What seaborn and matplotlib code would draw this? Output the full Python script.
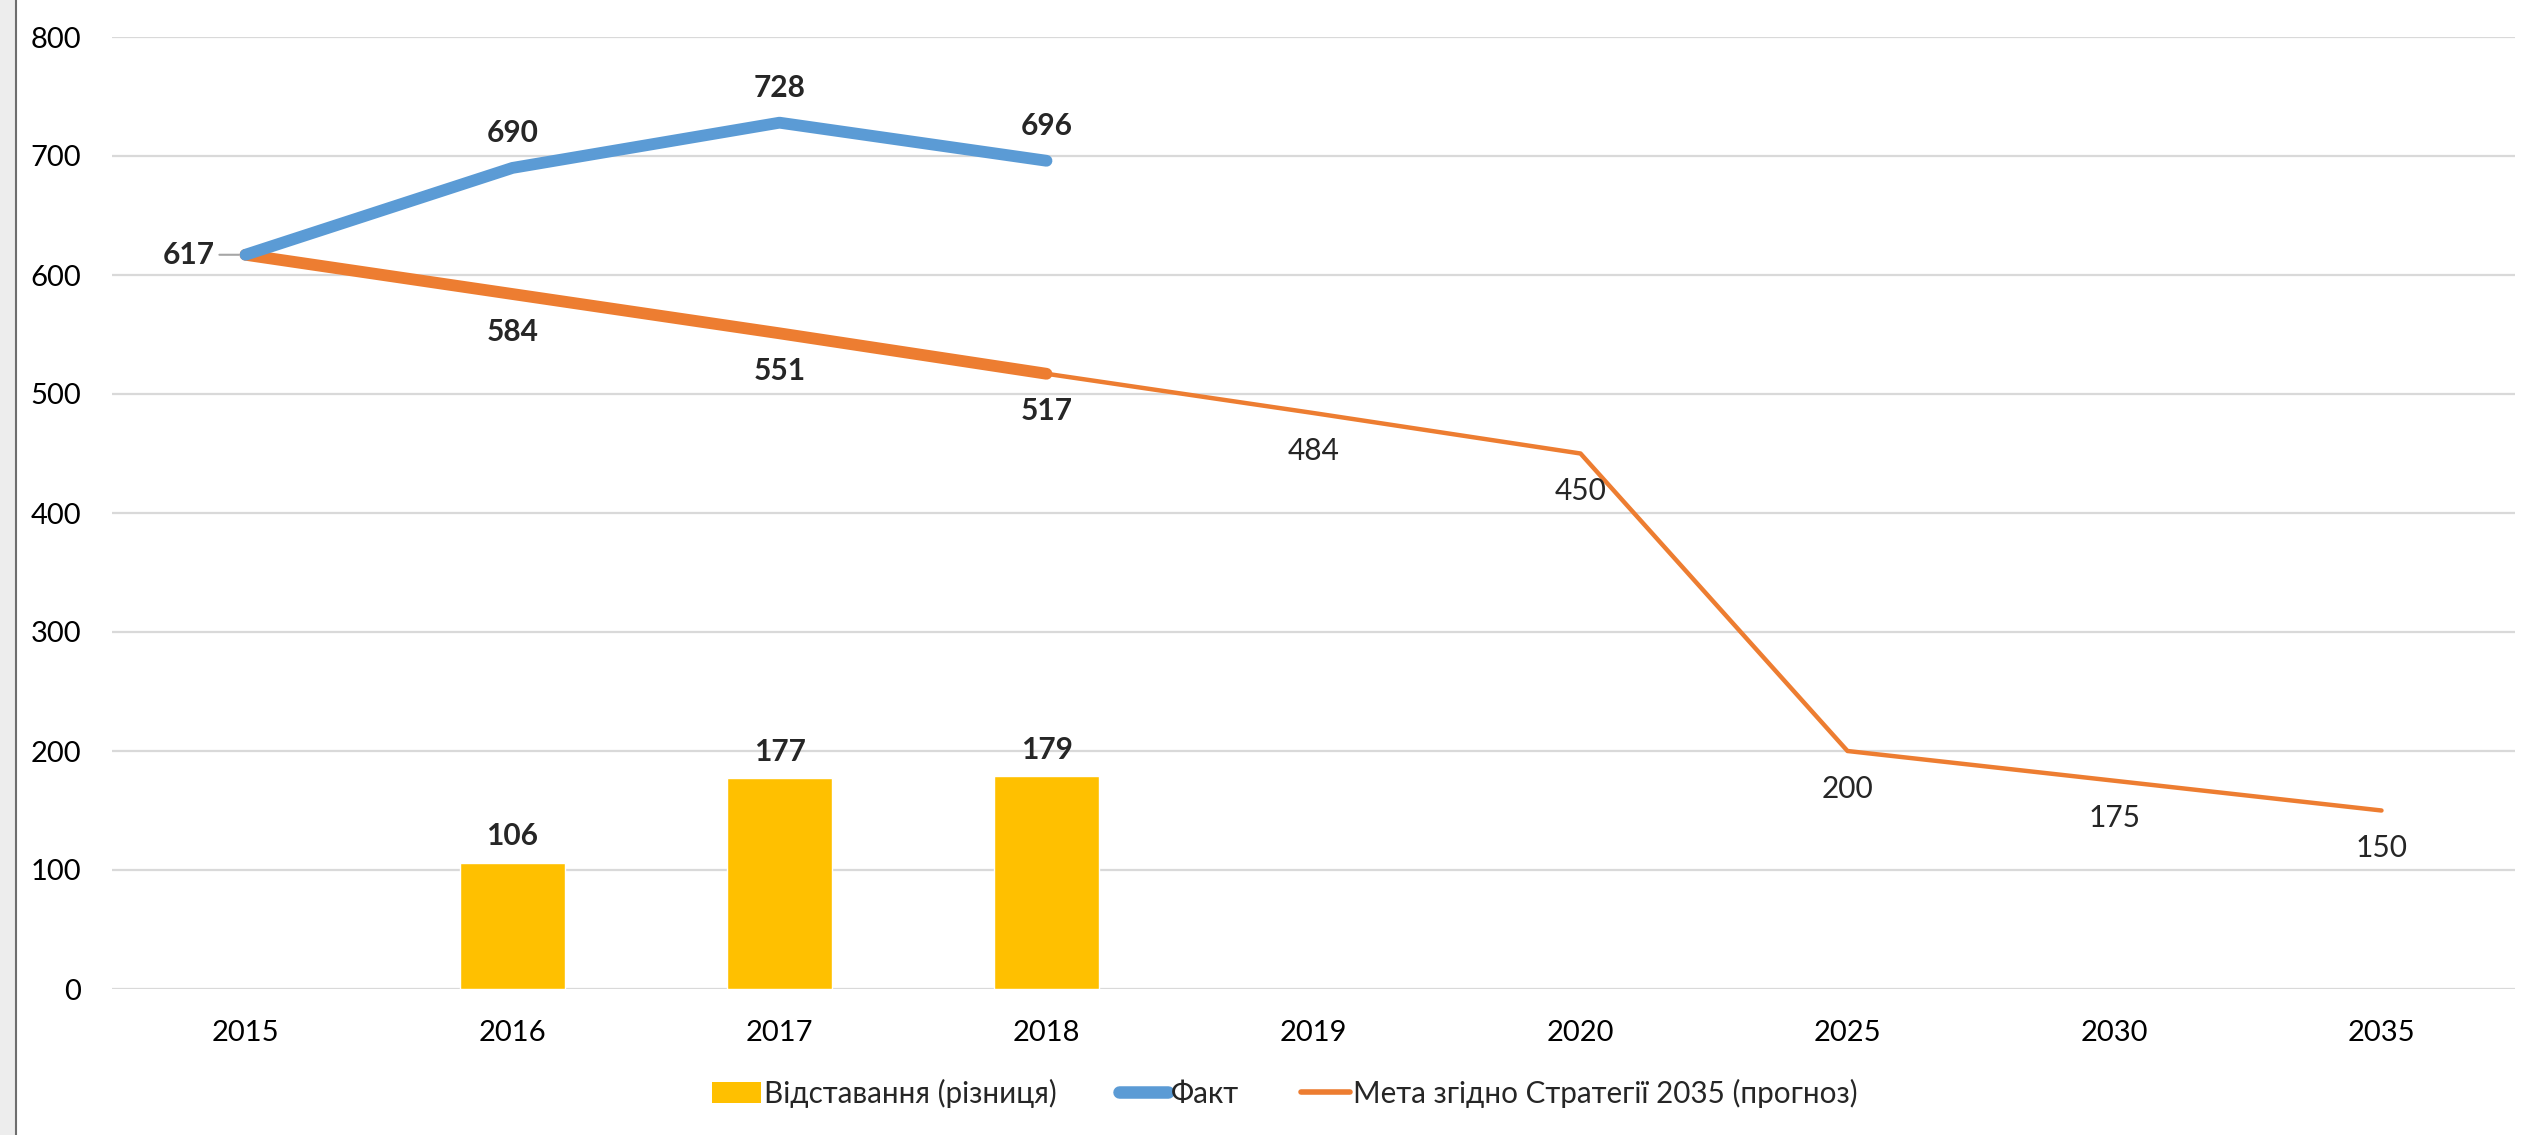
import matplotlib
matplotlib.use("Agg")
import matplotlib.pyplot as plt
import seaborn as sns
import pandas as pd
import numpy as np
from matplotlib.lines import Line2D
from matplotlib.patches import Patch, Rectangle

years = ["2015", "2016", "2017", "2018", "2019", "2020", "2025", "2030", "2035"]
fact = [617, 690, 728, 696]
target = [617, 584, 551, 517, 484, 450, 200, 175, 150]
gap_years = ["2016", "2017", "2018"]
gap = [106, 177, 179]

lbl_gap = "Відставання (різниця)"
lbl_fact = "Факт"
lbl_target = "Мета згідно Стратегії 2035 (прогноз)"

BLUE = "#5B9BD5"
ORANGE = "#ED7D31"
YELLOW = "#FFC000"

sns.set_theme(style="white")
plt.rcParams["font.family"] = ["Lato", "DejaVu Sans"]

fig = plt.figure(figsize=(25.39, 11.35), dpi=100)
ax = fig.add_axes([112 / 2539, 1 - 989 / 1135, (2515 - 112) / 2539, (989 - 37) / 1135])

# left gray strip
fig.patches.append(Rectangle((0, 0), 15 / 2539, 1, transform=fig.transFigure,
                             facecolor="#EDEDED", edgecolor="none", zorder=0))
fig.lines.append(Line2D([15.5 / 2539, 15.5 / 2539], [0, 1], transform=fig.transFigure,
                        color="#6E6E6E", lw=1.5))

df_gap = pd.DataFrame({"year": gap_years, "value": gap})
sns.barplot(data=df_gap, x="year", y="value", order=years, color=YELLOW,
            width=0.39, saturation=1, ax=ax, zorder=2)

pos = np.arange(len(years))
df_target = pd.DataFrame({"x": pos, "y": target})
df_target_thick = pd.DataFrame({"x": pos[:len(fact)], "y": target[:len(fact)]})
df_fact = pd.DataFrame({"x": pos[:len(fact)], "y": fact})

sns.lineplot(data=df_target, x="x", y="y", color=ORANGE, lw=3.2, ax=ax,
             solid_capstyle="round", solid_joinstyle="round", zorder=3)
sns.lineplot(data=df_target_thick, x="x", y="y", color=ORANGE, lw=8.5, ax=ax,
             solid_capstyle="round", solid_joinstyle="round", zorder=4)
sns.lineplot(data=df_fact, x="x", y="y", color=BLUE, lw=8.5, ax=ax,
             solid_capstyle="round", solid_joinstyle="round", zorder=5)

ax.set_xlim(-0.5, len(years) - 0.5)
ax.set_ylim(0, 800)
ax.set_yticks(range(0, 801, 100))
ax.set_xticks(pos)
ax.set_xticklabels(years)
ax.set_xlabel("")
ax.set_ylabel("")
ax.grid(axis="y", color="#D9D9D9", lw=1.6)
ax.set_axisbelow(True)
for s in ax.spines.values():
    s.set_visible(False)
ax.tick_params(axis="both", labelsize=21, colors="black", length=0)
ax.tick_params(axis="y", pad=22)
ax.tick_params(axis="x", pad=22)

# data labels
fsz = 21.5
for i, v in enumerate(fact):
    if i == 0:
        ax.annotate(str(v), (i, v), xytext=(-22, 0), textcoords="offset points",
                    ha="right", va="center", fontsize=fsz, fontweight="bold")
        ax.annotate("", (i - 0.025, v), xytext=(-14, 0), textcoords="offset points",
                    arrowprops=dict(arrowstyle="-", color="#A6A6A6", lw=1.5,
                                    shrinkA=0, shrinkB=0))
    else:
        ax.annotate(str(v), (i, v), xytext=(0, 25), textcoords="offset points",
                    ha="center", va="center", fontsize=fsz, fontweight="bold")
for i, v in enumerate(target):
    if i == 0:
        continue
    ax.annotate(str(v), (i, v), xytext=(0, -27), textcoords="offset points",
                ha="center", va="center", fontsize=fsz,
                fontweight="bold" if i < len(fact) else "normal")
for y, v in zip(gap_years, gap):
    i = years.index(y)
    ax.annotate(str(v), (i, v), xytext=(0, 19), textcoords="offset points",
                ha="center", va="center", fontsize=fsz, fontweight="bold")

handles = [
    Patch(facecolor=YELLOW, edgecolor="none", label=lbl_gap),
    Line2D([0], [0], color=BLUE, lw=9, solid_capstyle="round", label=lbl_fact),
    Line2D([0], [0], color=ORANGE, lw=4, solid_capstyle="round", label=lbl_target),
]
fig.legend(handles=handles, loc="center", bbox_to_anchor=(0.506, 1 - 1093 / 1135),
           ncol=3, frameon=False, fontsize=21.3, handlelength=1.65, handletextpad=0.1,
           columnspacing=2.1)

fig.savefig("out.png", dpi=100, facecolor="white")
